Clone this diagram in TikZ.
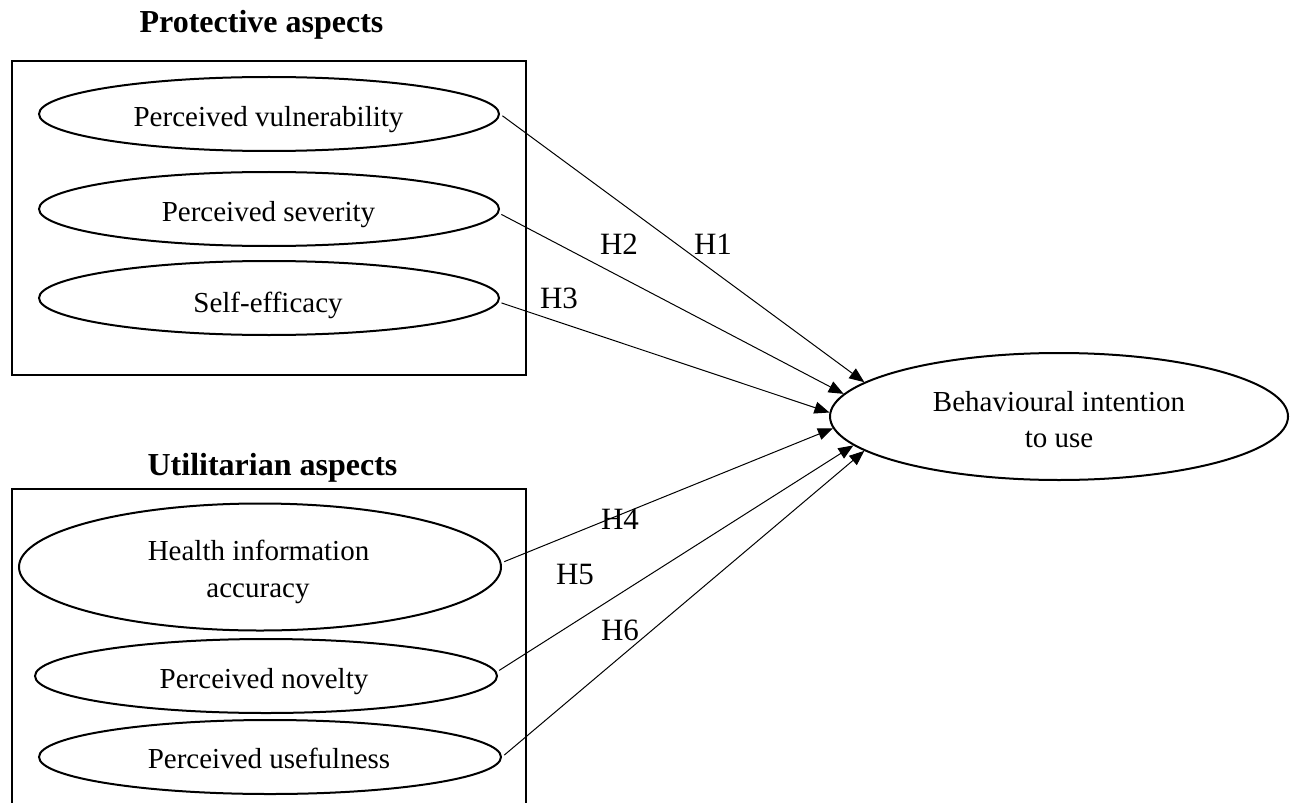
\documentclass[tikz,border=0pt]{standalone}
\usepackage{fontspec}
\setmainfont{Liberation Serif}
\usetikzlibrary{shapes.geometric,arrows.meta}
\begin{document}
\begin{tikzpicture}[x=0.5pt,y=-0.5pt,
  ell/.style={draw,ellipse,line width=1pt,inner sep=0pt},
  etext/.style={anchor=base,inner sep=0pt,font=\fontsize{14.5}{17}\selectfont},
  hlab/.style={anchor=base,inner sep=0pt,font=\fontsize{15.5}{18}\selectfont},
  ttl/.style={anchor=base,inner sep=0pt,font=\fontsize{16}{19}\selectfont\bfseries},
  conn/.style={-{Triangle[length=7.5pt,width=6pt]},line width=0.5pt,shorten <=1.5pt},
  grp/.style={line width=1pt}]
\useasboundingbox (0,0) rectangle (1293,802);

% group boxes
\draw[grp] (12,61) rectangle (526,375);
\draw[grp] (12,805) -- (12,489) -- (526,489) -- (526,805);

% titles
\node[ttl] (tprot) at (261.5,33) {Protective aspects};
\node[ttl] (tutil) at (272.5,475) {Utilitarian aspects};

% protective ellipses
\node[ell,minimum width=230pt,minimum height=37pt] (pv) at (269,114) {};
\node[etext] (pvt) at (268.5,127) {Perceived vulnerability};
\node[ell,minimum width=230pt,minimum height=37pt] (ps) at (269,209) {};
\node[etext] (pst) at (268.5,221) {Perceived severity};
\node[ell,minimum width=230pt,minimum height=37pt] (se) at (269,298) {};
\node[etext] (set) at (268,312) {Self-efficacy};

% utilitarian ellipses
\node[ell,minimum width=241pt,minimum height=63.5pt] (hia) at (260,567) {};
\node[etext] (hiat1) at (258.5,560.5) {Health information};
\node[etext] (hiat2) at (258,597) {accuracy};
\node[ell,minimum width=231pt,minimum height=37pt] (pn) at (266,676) {};
\node[etext] (pnt) at (264,688) {Perceived novelty};
\node[ell,minimum width=231pt,minimum height=37pt] (pu) at (270,757) {};
\node[etext] (put) at (269,768) {Perceived usefulness};

% outcome
\node[ell,minimum width=229pt,minimum height=63.5pt] (bi) at (1059,416.5) {};
\node[etext] (bit1) at (1059,411) {Behavioural intention};
\node[etext] (bit2) at (1059,447) {to use};

% connectors
\draw[conn] (pv.east) -- (bi.170);
\draw[conn] (ps.-1) -- (bi.174);
\draw[conn] (se.-1) -- (bi.179);
\draw[conn] (hia.1) -- (bi.183);
\draw[conn] (pn.1) -- (bi.188);
\draw[conn] (pu.east) -- (bi.190);

% hypothesis labels
\node[hlab] (h1) at (713,254) {H1};
\node[hlab] (h2) at (619,254) {H2};
\node[hlab] (h3) at (559,308) {H3};
\node[hlab] (h4) at (620,529) {H4};
\node[hlab] (h5) at (575,584) {H5};
\node[hlab] (h6) at (620,640) {H6};
\end{tikzpicture}
\end{document}
